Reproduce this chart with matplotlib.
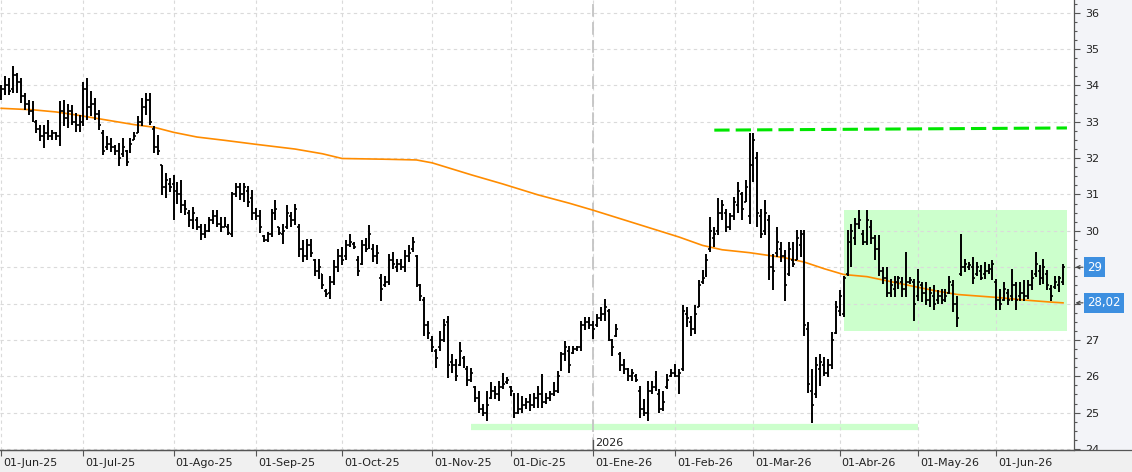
import numpy as np
import pandas as pd
import matplotlib
matplotlib.use("Agg")
import matplotlib.pyplot as plt
from matplotlib.patches import Rectangle
from matplotlib.lines import Line2D
from matplotlib.ticker import MultipleLocator
from matplotlib.transforms import ScaledTranslation, Bbox, TransformedBbox, blended_transform_factory

# ------------------------------------------------------------------------------------------
# data (daily OHLC bars, one per trading day from 02-Jun-2025)
highs = [
    34.0, 34.27, 34.2, 34.53, 34.35, 34.2, 33.79, 33.6, 33.56, 33.05,
    32.9, 32.9, 33.05, 32.78, 32.73, 33.56, 33.6, 33.5, 33.47, 33.24,
    33.19, 34.1, 34.2, 33.84, 33.65, 33.33, 32.78, 32.6, 32.55, 32.37,
    32.41, 32.55, 32.23, 32.55, 32.73, 33.15, 33.65, 33.79, 33.79, 32.87,
    32.64, 31.81, 31.58, 31.45, 31.54, 31.35, 31.4, 30.85, 30.57, 30.66,
    30.39, 30.2, 30.2, 30.39, 30.57, 30.57, 30.39, 30.39, 30.2, 31.08,
    31.31, 31.31, 31.31, 31.22, 31.12, 30.62, 30.57, 29.88, 29.97, 30.61,
    30.84, 30.11, 30.2, 30.7, 30.52, 30.75, 30.2, 29.74, 29.78, 29.78,
    29.23, 29.23, 28.82, 28.4, 28.77, 29.19, 29.51, 29.55, 29.74, 29.92,
    29.69, 29.3, 29.74, 29.79, 30.16, 29.65, 29.6, 28.82, 28.77, 29.37,
    29.42, 29.23, 29.23, 29.46, 29.6, 29.83, 29.33, 28.54, 28.18, 27.53,
    27.12, 26.75, 27.25, 27.58, 27.67, 26.61, 26.47, 26.93, 26.56, 26.29,
    26.24, 25.74, 25.6, 25.23, 25.6, 25.83, 25.74, 25.87, 26.1, 25.97,
    25.74, 25.55, 25.55, 25.46, 25.41, 25.5, 25.55, 25.72, 26.06, 25.55,
    25.6, 25.83, 26.15, 26.66, 26.98, 26.84, 26.84, 26.84, 27.53, 27.62,
    27.62, 27.53, 27.72, 27.9, 28.13, 27.85, 27.03, 27.44, 26.66, 26.47,
    26.24, 26.2, 26.06, 25.74, 25.37, 25.88, 25.88, 26.15, 25.64, 25.6,
    26.06, 26.2, 26.34, 26.2, 27.95, 27.9, 27.67, 27.95, 28.64, 28.91,
    29.37, 30.39, 30.11, 30.89, 30.84, 30.61, 30.48, 30.94, 31.35, 31.08,
    31.4, 32.69, 32.69, 32.18, 30.61, 30.84, 30.43, 29.37, 30.11, 29.69,
    29.46, 29.69, 29.69, 30.02, 30.02, 30.02, 27.48, 26.2, 26.52, 26.61,
    26.52, 26.47, 27.21, 28.08, 28.36, 28.77, 30.02, 30.2, 30.34, 30.57,
    30.02, 30.57, 30.29, 29.88, 29.88, 29.0, 29.0, 28.68, 28.77, 28.77,
    28.73, 29.42, 28.73, 28.68, 28.96, 28.59, 28.59, 28.45, 28.5, 28.36,
    28.41, 28.41, 28.77, 28.64, 28.22, 29.92, 29.23, 29.14, 29.28, 29.14,
    29.05, 29.14, 29.1, 29.19, 28.68, 28.41, 28.59, 28.41, 28.96, 28.59,
    28.59, 28.64, 28.64, 28.91, 29.42, 29.05, 29.23, 28.91, 28.5, 28.77,
    28.77, 29.1,
]
lows = [
    33.6, 33.74, 33.74, 33.79, 33.79, 33.52, 33.33, 33.19, 33.0, 32.69,
    32.46, 32.27, 32.5, 32.5, 32.5, 32.32, 32.87, 32.83, 32.92, 32.73,
    32.73, 32.87, 33.05, 33.15, 33.05, 32.78, 32.09, 32.23, 32.18, 32.09,
    31.77, 32.04, 31.77, 32.13, 32.5, 32.69, 32.87, 33.19, 32.92, 32.14,
    32.09, 30.98, 30.9, 31.08, 30.3, 30.75, 30.48, 30.43, 30.1, 30.06,
    30.02, 29.74, 29.79, 29.97, 30.2, 30.1, 29.97, 30.1, 29.88, 29.83,
    30.94, 30.85, 30.8, 30.66, 30.3, 30.3, 29.93, 29.7, 29.69, 29.83,
    30.29, 29.88, 29.65, 30.06, 30.11, 30.15, 29.28, 29.14, 29.19, 29.28,
    28.77, 28.68, 28.4, 28.17, 28.13, 28.5, 28.86, 29.05, 29.19, 29.55,
    29.51, 28.77, 29.05, 29.42, 29.51, 29.14, 29.1, 28.08, 28.45, 28.5,
    28.96, 28.87, 28.91, 28.87, 29.14, 29.42, 28.45, 28.08, 27.12, 27.02,
    26.66, 26.24, 26.7, 26.93, 25.96, 26.1, 25.87, 26.29, 26.24, 25.74,
    25.83, 25.28, 25.0, 24.91, 24.77, 25.37, 25.37, 25.32, 25.64, 25.78,
    25.46, 24.86, 24.95, 25.0, 25.09, 25.05, 25.14, 25.14, 25.14, 25.23,
    25.32, 25.46, 25.55, 26.15, 26.43, 26.1, 26.61, 26.7, 26.7, 27.26,
    27.3, 27.03, 27.35, 27.53, 27.53, 26.98, 26.57, 27.07, 26.15, 26.06,
    25.88, 25.88, 25.83, 24.86, 24.91, 24.77, 25.51, 25.6, 25.0, 25.05,
    25.64, 25.97, 25.97, 25.51, 26.15, 27.35, 27.12, 27.16, 27.9, 28.55,
    28.73, 29.42, 29.56, 29.88, 30.29, 29.97, 30.02, 30.29, 30.48, 30.29,
    30.8, 30.2, 31.35, 30.11, 29.79, 29.88, 28.64, 28.36, 29.28, 29.14,
    28.08, 28.77, 29.0, 29.19, 29.28, 27.12, 25.55, 24.72, 25.41, 25.74,
    26.01, 25.97, 26.2, 27.16, 27.67, 27.62, 28.77, 29.0, 29.6, 30.06,
    29.6, 29.6, 29.65, 29.19, 28.77, 28.54, 28.18, 28.18, 28.18, 28.4,
    28.17, 28.17, 28.54, 27.53, 28.08, 28.04, 27.95, 27.9, 27.81, 27.99,
    27.99, 28.04, 28.27, 27.76, 27.35, 28.77, 28.87, 28.91, 28.54, 28.77,
    28.64, 28.68, 28.82, 28.64, 27.81, 27.81, 28.08, 27.95, 28.08, 27.81,
    28.08, 28.08, 28.13, 28.36, 28.73, 28.5, 28.54, 28.36, 28.08, 28.41,
    28.32, 28.5,
]
opens = [
    33.7, 33.9, 34.0, 33.9, 34.3, 34.1, 33.7, 33.5, 33.3, 33.0,
    32.8, 32.6, 32.7, 32.6, 32.7, 32.6, 33.3, 33.1, 33.3, 33.0,
    32.9, 33.0, 33.9, 33.4, 33.5, 33.2, 32.7, 32.3, 32.4, 32.3,
    32.2, 32.1, 32.2, 32.2, 32.5, 32.7, 33.0, 33.4, 33.6, 32.8,
    32.3, 31.8, 31.2, 31.3, 31.3, 31.1, 31.0, 30.7, 30.5, 30.3,
    30.3, 30.1, 29.9, 30.0, 30.3, 30.4, 30.2, 30.1, 30.1, 29.9,
    31.0, 31.2, 31.0, 31.1, 30.9, 30.5, 30.4, 29.85, 29.75, 29.9,
    30.5, 30.1, 29.9, 30.1, 30.4, 30.3, 30.1, 29.5, 29.3, 29.6,
    29.2, 28.9, 28.8, 28.35, 28.3, 28.6, 29.0, 29.3, 29.3, 29.6,
    29.65, 29.2, 29.1, 29.6, 29.6, 29.5, 29.3, 28.7, 28.5, 28.6,
    29.2, 29.0, 29.1, 29.0, 29.3, 29.5, 29.3, 28.5, 28.1, 27.4,
    27.0, 26.7, 26.8, 27.0, 27.5, 26.4, 26.3, 26.3, 26.5, 26.2,
    25.9, 25.7, 25.4, 25.1, 25.0, 25.4, 25.6, 25.5, 25.7, 25.85,
    25.7, 25.4, 25.0, 25.1, 25.2, 25.3, 25.2, 25.4, 25.5, 25.3,
    25.4, 25.5, 25.6, 26.2, 26.6, 26.7, 26.65, 26.75, 26.8, 27.4,
    27.5, 27.4, 27.4, 27.6, 27.7, 27.8, 27.0, 27.1, 26.6, 26.3,
    26.2, 26.0, 26.0, 25.6, 25.1, 25.0, 25.6, 25.7, 25.5, 25.1,
    25.7, 26.0, 26.1, 26.0, 26.2, 27.7, 27.5, 27.3, 27.9, 28.6,
    28.8, 29.5, 29.8, 30.0, 30.5, 30.5, 30.1, 30.4, 30.7, 31.0,
    30.8, 30.4, 31.8, 32.0, 30.4, 30.0, 30.3, 29.0, 29.4, 29.5,
    29.3, 28.8, 29.2, 29.2, 29.6, 29.9, 27.3, 25.6, 25.5, 26.2,
    26.3, 26.1, 26.3, 27.2, 27.8, 27.7, 28.8, 29.7, 29.8, 30.2,
    29.9, 29.7, 30.1, 29.8, 29.5, 28.9, 28.7, 28.3, 28.4, 28.5,
    28.6, 28.4, 28.6, 28.6, 28.2, 28.5, 28.3, 28.1, 28.2, 28.1,
    28.2, 28.1, 28.3, 28.5, 28.0, 28.8, 29.0, 29.0, 29.0, 28.8,
    28.9, 28.8, 28.9, 28.9, 28.6, 28.1, 28.1, 28.3, 28.2, 28.5,
    28.2, 28.3, 28.2, 28.5, 28.8, 28.9, 28.7, 28.8, 28.4, 28.45,
    28.5, 28.6,
]
closes = [
    33.9, 34.0, 33.85, 34.3, 34.1, 33.7, 33.5, 33.3, 33.1, 32.8,
    32.6, 32.7, 32.6, 32.7, 32.6, 33.3, 33.1, 33.3, 33.0, 32.9,
    33.0, 33.9, 33.4, 33.5, 33.2, 32.9, 32.2, 32.4, 32.3, 32.2,
    32.0, 32.3, 31.9, 32.4, 32.6, 33.0, 33.4, 33.6, 33.0, 32.3,
    32.2, 31.2, 31.4, 31.2, 31.1, 31.0, 30.7, 30.6, 30.3, 30.5,
    30.1, 29.9, 30.0, 30.3, 30.4, 30.2, 30.1, 30.2, 29.95, 31.0,
    31.2, 31.0, 31.2, 30.8, 30.5, 30.4, 30.1, 29.75, 29.9, 30.5,
    30.6, 29.95, 30.0, 30.5, 30.3, 30.6, 29.5, 29.3, 29.6, 29.4,
    28.9, 29.0, 28.5, 28.25, 28.6, 29.0, 29.3, 29.2, 29.6, 29.7,
    29.55, 28.9, 29.6, 29.5, 29.9, 29.3, 29.4, 28.4, 28.6, 29.2,
    29.1, 29.1, 29.0, 29.3, 29.4, 29.7, 28.6, 28.2, 27.4, 27.2,
    26.8, 26.5, 27.0, 27.4, 26.3, 26.3, 26.0, 26.7, 26.4, 25.9,
    26.1, 25.4, 25.1, 25.0, 25.2, 25.6, 25.5, 25.7, 25.8, 25.9,
    25.6, 25.0, 25.1, 25.2, 25.3, 25.2, 25.4, 25.5, 25.3, 25.4,
    25.5, 25.6, 26.0, 26.6, 26.8, 26.3, 26.75, 26.8, 27.4, 27.5,
    27.4, 27.3, 27.6, 27.7, 27.9, 27.1, 26.8, 27.3, 26.3, 26.2,
    26.0, 26.1, 25.9, 25.1, 25.0, 25.6, 25.7, 25.9, 25.1, 25.3,
    25.9, 26.1, 26.0, 26.1, 27.8, 27.6, 27.3, 27.7, 28.5, 28.7,
    29.2, 30.0, 29.9, 30.5, 30.7, 30.1, 30.4, 30.8, 31.1, 30.6,
    31.2, 31.8, 32.5, 30.5, 29.9, 30.5, 29.0, 28.9, 29.7, 29.3,
    28.5, 29.5, 29.1, 29.8, 29.9, 27.4, 25.8, 25.2, 26.3, 26.4,
    26.1, 26.3, 27.0, 27.9, 28.2, 28.7, 29.9, 30.0, 30.2, 30.3,
    29.7, 30.3, 29.8, 29.5, 28.9, 28.7, 28.3, 28.5, 28.6, 28.7,
    28.4, 28.6, 28.65, 28.0, 28.6, 28.3, 28.1, 28.3, 28.0, 28.2,
    28.1, 28.2, 28.6, 28.0, 27.6, 29.0, 29.1, 29.05, 28.7, 29.0,
    28.7, 28.9, 28.95, 29.1, 28.1, 28.0, 28.4, 28.1, 28.5, 28.1,
    28.3, 28.2, 28.5, 28.7, 29.1, 28.7, 29.0, 28.5, 28.2, 28.6,
    28.7, 29.0,
]

# orange moving average, sampled along the curve
ma_dates = [
    "2025-06-02", "2025-06-12", "2025-06-20", "2025-06-27", "2025-07-04", "2025-07-11",
    "2025-07-18", "2025-07-25", "2025-08-01", "2025-08-11", "2025-08-20", "2025-09-01",
    "2025-09-15", "2025-09-24", "2025-10-01", "2025-10-16", "2025-10-28", "2025-11-03",
    "2025-11-17", "2025-11-27", "2025-12-10", "2025-12-22", "2026-01-02", "2026-01-19",
    "2026-02-03", "2026-02-11", "2026-02-18", "2026-02-27", "2026-03-12", "2026-03-19",
    "2026-03-26", "2026-04-02", "2026-04-14", "2026-04-20", "2026-04-24", "2026-04-30",
    "2026-05-08", "2026-05-18", "2026-06-01", "2026-06-11", "2026-06-19", "2026-06-24",
]
ma_values = [
    33.37, 33.33, 33.27, 33.19, 33.10, 33.01,
    32.92, 32.85, 32.71, 32.58, 32.49, 32.38,
    32.25, 32.12, 31.99, 31.97, 31.95, 31.87,
    31.54, 31.29, 30.99, 30.76, 30.57, 30.20,
    29.83, 29.60, 29.48, 29.40, 29.26, 29.14,
    28.96, 28.80, 28.74, 28.65, 28.56, 28.47,
    28.36, 28.25, 28.17, 28.09, 28.04, 28.02,
]

holidays = ["2025-12-25", "2025-12-26", "2026-01-01", "2026-04-03", "2026-04-06", "2026-05-01"]
month_labels = ["01-Jun-25", "01-Jul-25", "01-Ago-25", "01-Sep-25", "01-Oct-25", "01-Nov-25",
                "01-Dic-25", "01-Ene-26", "01-Feb-26", "01-Mar-26", "01-Abr-26", "01-May-26",
                "01-Jun-26"]

# drawn objects
resistance_dates = ["2026-02-16", "2026-06-25"]
resistance_values = [32.77, 32.83]
support_dates = ["2025-11-17", "2026-05-04"]
support_value = 24.6
range_dates = ["2026-04-02", "2026-06-25"]
range_low, range_high = 27.25, 30.57
last_close_label = "29"
last_close = 29.0
last_ma_label = "28,02"
last_ma = 28.02

# ------------------------------------------------------------------------------------------
# trading day calendar -> bar index
days = pd.bdate_range("2025-06-02", "2026-06-30")
days = days[~days.isin(pd.to_datetime(holidays))]


def to_idx(list_dates):
    return days.get_indexer(pd.to_datetime(list_dates))


idx = np.arange(len(highs))
month_idx = [np.where(days.to_period("M") == p)[0][0] for p in days.to_period("M").unique()]
year_idx = days.get_indexer(pd.to_datetime(["2026-01-02"]))[0]

# ------------------------------------------------------------------------------------------
plt.rcParams["font.family"] = ["DejaVu Sans"]
W, H = 1132, 472
fig = plt.figure(figsize=(W / 100, H / 100), dpi=100, facecolor="#f3f4f8")
fig.patches.append(Rectangle((0, 0), 1, 22 / H, transform=fig.transFigure,
                             facecolor="#f0f0f0", edgecolor="none", zorder=-1))
fig.add_artist(Line2D([0, 1], [22 / H, 22 / H], transform=fig.transFigure, color="#555555", lw=0.9))

ax = fig.add_axes([0, 22 / H, 1074 / W, 450 / H])
ax.set_facecolor("white")
ax.set_xlim(-0.3, 273.8)
ax.set_ylim(23.973, 36.349)

# range box, support and resistance
r0, r1 = to_idx(range_dates)
ax.add_patch(Rectangle((r0, range_low), r1 - r0, range_high - range_low,
                       facecolor="#ccffcc", edgecolor="none", zorder=0.2))
ax.plot(to_idx(support_dates), [support_value, support_value], color="#ccffcc", lw=4.5,
        solid_capstyle="butt", zorder=1)
ax.plot(to_idx(resistance_dates), resistance_values, color="#00e600", lw=2.2,
        dashes=(5, 2), zorder=4)

# moving average
ax.plot(to_idx(ma_dates), ma_values, color="#ff8c00", lw=1.2, zorder=2.5)

# OHLC bars
ax.vlines(idx, lows, highs, color="black", lw=1.4, zorder=3)
ax.hlines(opens, idx - 0.5, idx, color="black", lw=1.2, zorder=3)
ax.hlines(closes, idx, idx + 0.5, color="black", lw=1.2, zorder=3)

# year separator
ax.axvline(year_idx, color="#c4c4c4", lw=1.3, dashes=(7, 3), zorder=1.6)
ax.plot([year_idx, year_idx], [23.973, 24.25], color="#555555", lw=0.9, zorder=2)
ax.text(year_idx + 0.6, 24.03, "2026", fontsize=8, color="#222222", ha="left", va="bottom")

# grid and axes
ax.set_xticks(month_idx)
ax.set_xticklabels(month_labels)
ax.set_yticks(np.arange(24, 37))
ax.set_yticklabels(["" if v in (28, 29) else str(v) for v in range(24, 37)])
ax.yaxis.set_minor_locator(MultipleLocator(0.25))
ax.yaxis.tick_right()
ax.grid(True, which="major", color="#dadada", lw=0.8, linestyle=(0, (3, 3)))
for s in ["top", "left"]:
    ax.spines[s].set_visible(False)
for s in ["right", "bottom"]:
    ax.spines[s].set_color("#555555")
    ax.spines[s].set_linewidth(0.9)
ax.tick_params(axis="x", direction="out", length=4.5, width=0.8, color="#555555",
               pad=1.5, labelsize=8, labelcolor="#222222")
ax.tick_params(axis="y", which="major", direction="out", length=4.5, width=0.8,
               color="#555555", pad=3.5, labelsize=8, labelcolor="#222222")
ax.tick_params(axis="y", which="minor", direction="out", length=2.5, width=0.8, color="#555555")
for lab in ax.get_xticklabels():
    lab.set_horizontalalignment("left")
    lab.set_transform(lab.get_transform() + ScaledTranslation(2 / 100, 0, fig.dpi_scale_trans))

# the 24 label is cut by the bottom strip
clip = TransformedBbox(Bbox([[0, 22 / H], [1, 1]]), fig.transFigure)
for t in ax.yaxis.get_major_ticks():
    t.label2.set_clip_box(clip)
    t.label2.set_clip_on(True)

# last value markers on the price axis
trans = blended_transform_factory(ax.transAxes, ax.transData)
for crrt_label, crrt_value in [(last_close_label, last_close), (last_ma_label, last_ma)]:
    ax.text(1087 / 1074, crrt_value, crrt_label, transform=trans, fontsize=8.5, color="white",
            ha="left", va="center", clip_on=False,
            bbox=dict(boxstyle="square,pad=0.28", facecolor="#3d8fe0", edgecolor="none"))
    ax.annotate("", xy=(1075.5 / 1074, crrt_value), xycoords=trans,
                xytext=(1083 / 1074, crrt_value), textcoords=trans, annotation_clip=False,
                arrowprops=dict(arrowstyle="->", color="#444444", lw=0.8, shrinkA=0, shrinkB=0,
                                mutation_scale=6))

fig.savefig("out.png", dpi=100, facecolor=fig.get_facecolor())
